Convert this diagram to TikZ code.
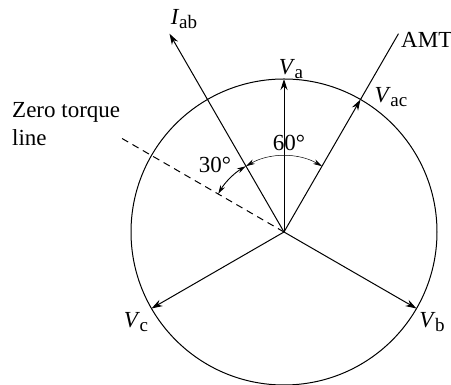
\documentclass[tikz,border=0pt]{standalone}
\usepackage{fontspec}
\setmainfont{Liberation Serif}
\usetikzlibrary{arrows.meta,calc}
\newcommand\vsub[2]{\textit{#1}\kern-0.02em\raisebox{-0.45ex}{\fontsize{19}{19}\selectfont #2}}
\begin{document}
\begin{tikzpicture}[x=1pt,y=1pt,
  line/.style={line width=1pt},
  vec/.style={line, -{Stealth[length=11pt,width=7pt]}},
  dim/.style={line width=0.9pt, {Stealth[length=9pt,width=5pt]}-{Stealth[length=9pt,width=5pt]}},
  lbl/.style={inner sep=0pt, font=\fontsize{23}{26}\selectfont}]
\useasboundingbox (0,0) rectangle (451,385);
\coordinate (C) at (284,153);
\draw[line] (C) circle (153);
\coordinate (A) at ($(C)+(90:153)$);
\coordinate (Bt) at ($(C)+(-30:153)$);
\coordinate (Ct) at ($(C)+(210:153)$);
\coordinate (ACt) at ($(C)+(60:153)$);
\coordinate (AMTe) at ($(C)+(60:229)$);
\coordinate (Iab) at ($(C)+(120:229)$);
\coordinate (Z) at ($(C)+(150:191)$);
\coordinate (Z1) at ($(C)+(150:76)$);
\coordinate (I1) at ($(C)+(120:76)$);
\coordinate (A1) at ($(C)+(60:76)$);
\draw[vec] (C) -- (A);
\draw[vec] (C) -- (Bt);
\draw[vec] (C) -- (Ct);
\draw[vec] (C) -- (ACt);
\draw[line] (ACt) -- (AMTe);
\draw[vec] (C) -- (Iab);
\draw[line, dashed, dash pattern=on 7pt off 5pt] (C) -- (Z);
\draw[dim] (Z1) arc[start angle=150, end angle=120, radius=76];
\draw[dim, line width=0.5pt] (I1) arc[start angle=120, end angle=60, radius=76];
\node[lbl] (lIab) at (184,366) {\vsub{I}{ab}};
\node[lbl] (lVa) at (291,316) {\vsub{V}{a}};
\node[lbl] (lVac) at (391,288) {\vsub{V}{ac}};
\node[lbl, anchor=west] (lAMT) at (401,345) {AMT};
\node[lbl, anchor=base west] (lZ1) at (12,267) {Zero torque};
\node[lbl, anchor=base west] (lZ2) at (12,239) {line};
\node[lbl] (l30) at (215,220) {30°};
\node[lbl] (l60) at (289,242) {60°};
\node[lbl] (lVc) at (136,63) {\vsub{V}{c}};
\node[lbl] (lVb) at (432,63) {\vsub{V}{b}};
\end{tikzpicture}
\end{document}
